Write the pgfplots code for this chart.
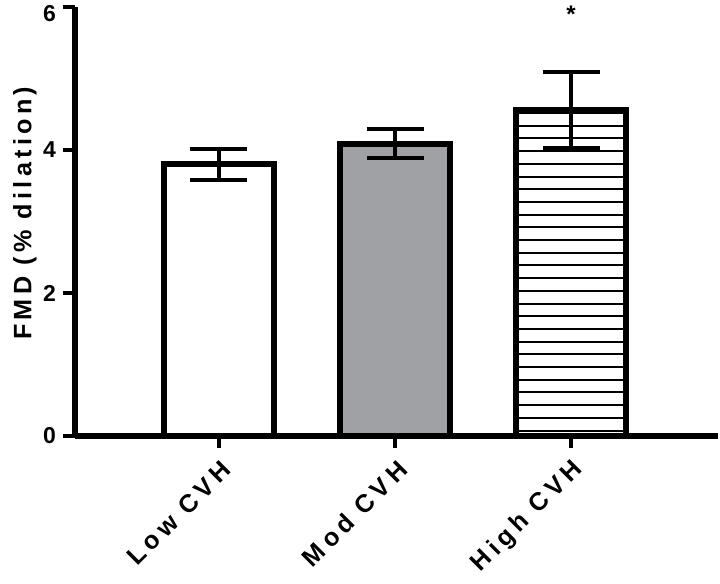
\documentclass[border=0pt]{standalone}
\usepackage{fontspec}
\setmainfont{Liberation Sans}
\usepackage{pgfplots}
\pgfplotsset{compat=1.18}
\usetikzlibrary{patterns}
\definecolor{bargray}{RGB}{160,161,164}
\pgfdeclarepatternformonly{hstripes}{\pgfpointorigin}{\pgfqpoint{100pt}{1pt}}{\pgfqpoint{100pt}{6.35pt}}{\pgfsetlinewidth{1pt}\pgfpathmoveto{\pgfqpoint{0pt}{0.5pt}}\pgfpathlineto{\pgfqpoint{100pt}{0.5pt}}\pgfusepath{stroke}}
\newcommand{\xlab}{\bfseries\addfontfeature{LetterSpace=19}\fontsize{12.6}{14}\selectfont}
\newcommand{\ylab}{\bfseries\addfontfeature{LetterSpace=17}\fontsize{12.6}{14}\selectfont}
\begin{document}
\begin{tikzpicture}
\useasboundingbox (-37.5pt,-74pt) rectangle (322.5pt,218pt);
\begin{axis}[
  at={(0,0)}, anchor=south west,
  scale only axis, width=321.5pt, height=214.5pt,
  xmin=-0.818, xmax=2.835, ymin=0, ymax=6,
  axis x line*=bottom, axis y line*=left,
  axis line style={line width=2.75pt},
  ytick={0,2,4,6}, yticklabels={0,2,4,\raisebox{-7.3pt}[0pt][0pt]{6}}, xtick={0,1,2},
  xticklabels={Low CVH, Mod CVH, High CVH},
  tick align=outside, major tick length=6pt,
  tick style={line width=2pt, black},
  /pgf/number format/assume math mode=true,
  yticklabel style={font=\bfseries\fontsize{11.5}{13}\selectfont},
  xticklabel style={font=\xlab, rotate=45, anchor=east, yshift=-9pt},
  ylabel={FMD (\% dilation)},
  ylabel style={font=\ylab, at={(axis description cs:-0.078,0.519)}, anchor=center},
  ybar, bar width=0.62, bar shift=0pt,
  error bars/y dir=both, error bars/y explicit,
  error bars/error bar style={line width=2pt, black},
  error bars/error mark options={rotate=90, mark size=14.25pt, line width=2pt, black},
  clip=false,
]
\addplot[draw=black, line width=3pt, fill=white] coordinates {(0,3.80) +- (0,0.22)};
\addplot[draw=black, line width=3pt, fill=bargray] coordinates {(1,4.09) +- (0,0.20)};
\addplot[draw=black, line width=3pt, fill=white, postaction={pattern=hstripes, pattern color=black}] coordinates {(2,4.56) +- (0,0.53)};
\addplot[ybar=0pt, draw=none, fill=none, error bars/y dir=none, point meta=explicit symbolic,
  nodes near coords, nodes near coords style={font=\bfseries\fontsize{12}{14}\selectfont, anchor=center, inner sep=0pt}]
  coordinates {(2,5.9) [*]};
\end{axis}
\end{tikzpicture}
\end{document}
